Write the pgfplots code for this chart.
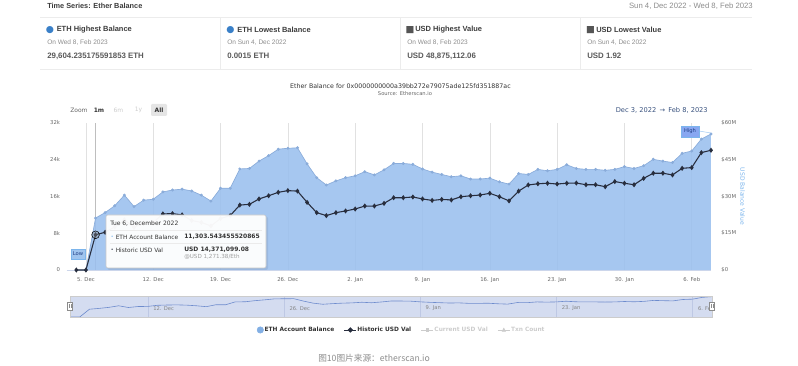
\documentclass[border=0pt]{standalone}
\usepackage{pgfplots}
\pgfplotsset{compat=1.18}
\usepackage{pgfplotstable}
\usepackage{fontspec}
\setmainfont{DejaVu Sans}
\newfontfamily\hdr{Liberation Sans}
\newfontfamily\cjk{Noto Sans CJK SC}
\newcommand\fs[1]{\fontsize{#1pt}{#1pt}\selectfont}
\definecolor{areafill}{RGB}{154,191,238}
\definecolor{arealine}{RGB}{138,172,218}
\definecolor{usdline}{RGB}{40,46,62}
\definecolor{gridc}{RGB}{225,225,225}
\definecolor{crossc}{RGB}{190,190,190}
\definecolor{xaxisc}{RGB}{204,214,235}
\definecolor{ticklab}{RGB}{102,102,102}
\definecolor{axisblue}{RGB}{124,181,236}
\definecolor{ethleg}{RGB}{130,175,228}
\definecolor{navfill}{RGB}{212,220,240}
\definecolor{navline}{RGB}{110,140,205}
\definecolor{navgrid}{RGB}{190,200,228}
\definecolor{hidc}{RGB}{204,204,204}
\definecolor{hdrtxt}{RGB}{60,60,60}
\definecolor{hdrgrey}{RGB}{140,140,140}
\definecolor{sepc}{RGB}{236,236,236}
\definecolor{iconblue}{RGB}{58,128,200}
\definecolor{icongrey}{RGB}{85,85,85}
\definecolor{rangeblue}{RGB}{55,80,125}
\definecolor{flagfill}{RGB}{160,196,238}
\definecolor{flagtxt}{RGB}{30,60,130}
\definecolor{titlec}{RGB}{51,51,51}

\pgfplotstableread{
d eth usd
1 0.0015 0.00000192
2 0.0015 0.0000019
3 11303.54 14.371
4 12500 15.4
5 14000 17.6
6 16300 20.5
7 13800 17.4
8 15200 19.2
9 15400 19.4
10 17000 22.9
11 17400 23.0
12 17600 22.5
13 17200 20.2
14 16300 19.4
15 15000 18.0
16 17800 21.0
17 17800 22.2
18 22000 26.5
19 22100 26.8
20 23700 29.0
21 24900 30.3
22 26300 31.7
23 26500 32.4
24 26600 32.2
25 23100 27.6
26 20100 23.4
27 18500 22.2
28 19400 23.4
29 20100 24.1
30 20500 24.9
31 21400 26.1
32 20700 26.1
33 21800 27.2
34 23200 29.5
35 23200 29.5
36 23000 29.8
37 22000 29.0
38 21300 28.4
39 20800 28.8
40 20300 28.6
41 20500 29.9
42 19800 30.3
43 19800 30.6
44 20000 31.3
45 19200 29.9
46 18700 28.2
47 21000 32.2
48 20800 34.7
49 21900 35.2
50 21600 35.4
51 21900 35.1
52 22900 35.4
53 22100 35.5
54 21900 34.8
55 21900 34.8
56 21700 34.0
57 21900 36.1
58 22500 35.4
59 22100 34.8
60 22700 37.4
61 24100 39.5
62 23700 39.5
63 23400 38.8
64 25400 41.5
65 25900 41.8
66 28500 47.9
67 29604.24 48.875
}\datatab

\begin{document}
\begin{tikzpicture}
\useasboundingbox (0,0) rectangle (598.5pt,274.5pt);

% main ETH axis
\begin{axis}[
  at={(50.025pt,72pt)}, anchor=south west, scale only axis,
  width=483.2pt, height=110.25pt,
  xmin=0, xmax=67, ymin=0, ymax=32000,
  axis x line*=bottom, axis y line*=left,
  x axis line style={draw=xaxisc, line width=0.5pt, -},
  y axis line style={draw=none},
  xtick={2,9,16,23,30,37,44,51,58,65},
  xticklabels={5. Dec,12. Dec,19. Dec,26. Dec,2. Jan,9. Jan,16. Jan,23. Jan,30. Jan,6. Feb},
  ytick={0,8000,16000,24000,32000},
  yticklabels={0,8k,16k,24k,32k},
  scaled y ticks=false,
  xmajorgrids, major grid style={gridc, line width=0.45pt},
  major tick length=0pt,
  tick label style={font=\fs{4}, text=ticklab},
  xticklabel style={yshift=-2.2pt},
  yticklabel style={xshift=-1.5pt},
  clip=false,
]
\draw[crossc, line width=0.5pt] (axis cs:3,0) -- (axis cs:3,32000);
\addplot[draw=none, fill=areafill, fill opacity=0.88] table[x=d,y=eth]{\datatab} \closedcycle;
\addplot[arealine, line width=0.5pt, mark=*, mark size=0.85pt, mark options={draw=arealine, fill=arealine}] table[x=d,y=eth]{\datatab};
\end{axis}

% USD axis
\begin{axis}[
  at={(50.025pt,72pt)}, anchor=south west, scale only axis,
  width=483.2pt, height=110.25pt,
  xmin=0, xmax=67, ymin=0, ymax=60,
  axis x line=none, axis y line*=right,
  y axis line style={draw=none},
  ytick={0,15,30,45,60},
  yticklabels={\$0,\$15M,\$30M,\$45M,\$60M},
  major tick length=0pt,
  tick label style={font=\fs{4}, text=ticklab},
  yticklabel style={xshift=4.3pt},
  clip=false,
  legend style={at={(0.519,-0.408)}, anchor=center, draw=none, fill=none,
    legend columns=-1, font={\fs{4.4}\bfseries}, text=titlec,
    nodes={inner sep=0.6pt},
    /tikz/every even column/.append style={column sep=6.6pt}},
]
\addlegendimage{legend image code/.code={\fill[ethleg] (2.4pt,0pt) circle (2.4pt);}}
\addlegendentry{ETH Account Balance}
\addplot[usdline, line width=0.8pt, mark=diamond*, mark size=1.3pt,
  legend image code/.code={\draw[usdline,line width=0.6pt] (0pt,0pt)--(9pt,0pt);
    \fill[usdline] (4.5pt,1.5pt)--(6pt,0pt)--(4.5pt,-1.5pt)--(3pt,0pt)--cycle;}]
  table[x=d,y=usd]{\datatab};
\addlegendentry{Historic USD Val}
\addlegendimage{legend image code/.code={\draw[hidc,line width=0.6pt] (0pt,0pt)--(9pt,0pt);
    \fill[hidc] (3.4pt,-1.1pt) rectangle (5.6pt,1.1pt);}}
\addlegendentry{\textcolor{hidc}{Current USD Val}}
\addlegendimage{legend image code/.code={\draw[hidc,line width=0.6pt] (0pt,0pt)--(9pt,0pt);
    \fill[hidc] (3.2pt,-1.1pt)--(5.8pt,-1.1pt)--(4.5pt,1.4pt)--cycle;}}
\addlegendentry{\textcolor{hidc}{Txn Count}}
\addplot[forget plot, only marks, mark=*, mark size=2.9pt, mark options={fill=black!45, fill opacity=0.35, draw=none}] coordinates {(3,14.371)};
\end{axis}

% navigator
\begin{axis}[
  at={(52.5pt,36.75pt)}, anchor=south west, scale only axis,
  width=481.5pt, height=15.75pt,
  xmin=1, xmax=67, ymin=0, ymax=30500,
  axis line style={draw=none},
  axis background/.style={fill=navfill},
  xtick={9,23,37,51,65},
  xticklabels={12. Dec,26. Dec,9. Jan,23. Jan,6. Feb},
  ytick=\empty,
  xmajorgrids, major grid style={navgrid, line width=0.4pt},
  major tick length=0pt,
  xticklabel style={anchor=south west, font=\fs{3.9}, text=ticklab!80, yshift=1.2pt, xshift=0.6pt},
]
\addplot[navline, line width=0.45pt] table[x=d,y=eth]{\datatab};
\end{axis}

\begin{scope}[x=0.75pt, y=-0.75pt, shift={(0pt,274.5pt)}]
% navigator outline and handles
\draw[hidc, line width=0.4pt] (70,296) rectangle (712,317);
\foreach \hx in {70,712}{
  \draw[black!45, fill=white, line width=0.4pt] (\hx-2.6,302) rectangle (\hx+2.6,310);
  \draw[black!45, line width=0.3pt] (\hx-0.8,304) -- (\hx-0.8,308) (\hx+0.8,304) -- (\hx+0.8,308);
}
% header
\node[anchor=west, inner sep=0, font=\hdr\fs{5.5}\bfseries, text=hdrtxt] at (47,6) {Time Series: Ether Balance};
\node[anchor=east, inner sep=0, font=\hdr\fs{5.8}, text=hdrgrey] at (753,6) {Sun 4, Dec 2022 - Wed 8, Feb 2023};
\draw[sepc, line width=0.6pt] (40,17) -- (752,17);
\draw[sepc, line width=0.6pt] (40,69) -- (752,69);
\foreach \sx in {220,400,580}{\draw[sepc, line width=0.6pt] (\sx,17) -- (\sx,69);}
% cards
\node[anchor=center, inner sep=0, font=\fs{7}, text=iconblue] at (50,30) {●};
\node[anchor=west, inner sep=0, font=\hdr\fs{5.6}\bfseries, text=hdrtxt] at (56.5,30) {ETH Highest Balance};
\node[anchor=west, inner sep=0, font=\hdr\fs{4.9}, text=hdrgrey] at (47,43) {On Wed 8, Feb 2023};
\node[anchor=west, inner sep=0, font=\hdr\fs{5.9}\bfseries, text=black!65] at (47,56) {29,604.235175591853 ETH};

\node[anchor=center, inner sep=0, font=\fs{7}, text=iconblue] at (230.5,30) {●};
\node[anchor=west, inner sep=0, font=\hdr\fs{5.6}\bfseries, text=hdrtxt] at (237,30) {ETH Lowest Balance};
\node[anchor=west, inner sep=0, font=\hdr\fs{4.9}, text=hdrgrey] at (227,43) {On Sun 4, Dec 2022};
\node[anchor=west, inner sep=0, font=\hdr\fs{5.9}\bfseries, text=black!65] at (227,56) {0.0015 ETH};

\node[anchor=center, inner sep=0, font=\fs{7}, text=icongrey] at (410,30) {■};
\node[anchor=west, inner sep=0, font=\hdr\fs{5.6}\bfseries, text=hdrtxt] at (415,30) {USD Highest Value};
\node[anchor=west, inner sep=0, font=\hdr\fs{4.9}, text=hdrgrey] at (407,43) {On Wed 8, Feb 2023};
\node[anchor=west, inner sep=0, font=\hdr\fs{5.9}\bfseries, text=black!65] at (407,56) {USD 48,875,112.06};

\node[anchor=center, inner sep=0, font=\fs{7}, text=icongrey] at (590.5,30) {■};
\node[anchor=west, inner sep=0, font=\hdr\fs{5.6}\bfseries, text=hdrtxt] at (596,30) {USD Lowest Value};
\node[anchor=west, inner sep=0, font=\hdr\fs{4.9}, text=hdrgrey] at (587,43) {On Sun 4, Dec 2022};
\node[anchor=west, inner sep=0, font=\hdr\fs{5.9}\bfseries, text=black!65] at (587,56) {USD 1.92};
% chart title
\node[anchor=center, inner sep=0, font=\fs{4.7}, text=titlec] at (400.5,86.5) {Ether Balance for 0x0000000000a39bb272e79075ade125fd351887ac};
\node[anchor=center, inner sep=0, font=\fs{3.9}, text=ticklab] at (405,93.5) {Source: Etherscan.io};
% range selector
\node[anchor=west, inner sep=0, font=\fs{4.5}, text=ticklab] at (70,110) {Zoom};
\node[anchor=center, inner sep=0, font=\fs{4.5}\bfseries, text=titlec] at (99,110) {1m};
\node[anchor=center, inner sep=0, font=\fs{4.5}, text=hidc] at (118.5,110) {6m};
\node[anchor=center, inner sep=0, font=\fs{4.5}, text=hidc] at (138.5,110) {1y};
\fill[black!10, rounded corners=0.8pt] (151,104) rectangle (167,116);
\node[anchor=center, inner sep=0, font=\fs{4.5}\bfseries, text=titlec] at (159,110) {All};
\node[anchor=east, inner sep=0, font=\fs{5}, text=rangeblue] at (708,110) {Dec 3, 2022 \,→\, Feb 8, 2023};
% right axis title
\node[rotate=-90, anchor=center, inner sep=0, font=\fs{4.5}, text=axisblue] at (742.5,196.5) {USD Balance Value};
% flags
\node[anchor=center, fill=flagfill, draw=axisblue, line width=0.3pt, inner sep=0, minimum width=10.5pt, minimum height=7.5pt, font=\fs{3.9}, text=flagtxt] at (78,254) {Low};
\draw[axisblue!70, line width=0.4pt] (699,131) -- (711,133);
\node[anchor=center, fill=flagfill!85!blue, draw=axisblue, line width=0.3pt, inner sep=0, minimum width=13.5pt, minimum height=8pt, font=\fs{3.9}, text=flagtxt] at (690,131.5) {High};
% tooltip
\fill[black, opacity=0.07, rounded corners=1.5pt] (107.5,216.5) rectangle (268,270);
\draw[black!22, fill=white, fill opacity=0.96, line width=0.4pt, rounded corners=1.5pt] (106,215) rectangle (266,268);
\node[anchor=west, inner sep=0, font=\fs{4.5}, text=titlec] at (110,224) {Tue 6, December 2022};
\draw[black!8, line width=0.4pt] (110,230.5) -- (262,230.5);
\draw[black!8, line width=0.4pt] (110,243.5) -- (262,243.5);
\node[anchor=center, inner sep=0, font=\fs{3.5}, text=axisblue] at (112.3,237) {•};
\node[anchor=west, inner sep=0, font=\fs{4.4}, text=titlec] at (115.5,237) {ETH Account Balance};
\node[anchor=west, inner sep=0, font=\fs{4.5}\bfseries, text=titlec] at (184,237) {11,303.543455520865};
\node[anchor=center, inner sep=0, font=\fs{3.5}, text=usdline] at (112.3,250) {•};
\node[anchor=west, inner sep=0, font=\fs{4.4}, text=titlec] at (115.5,250) {Historic USD Val};
\node[anchor=west, inner sep=0, font=\fs{4.5}\bfseries, text=titlec] at (184,249.5) {USD 14,371,099.08};
\node[anchor=west, inner sep=0, font=\fs{4.2}, text=black!38] at (184,257) {@USD 1,271.38/Eth};
% caption (kept inside the page)
\node[anchor=north west, inner sep=0, font=\cjk\fs{6.5}, text=black!45] at (318,353.5) {图10图片来源：etherscan.io};
\end{scope}
\end{tikzpicture}
\end{document}
